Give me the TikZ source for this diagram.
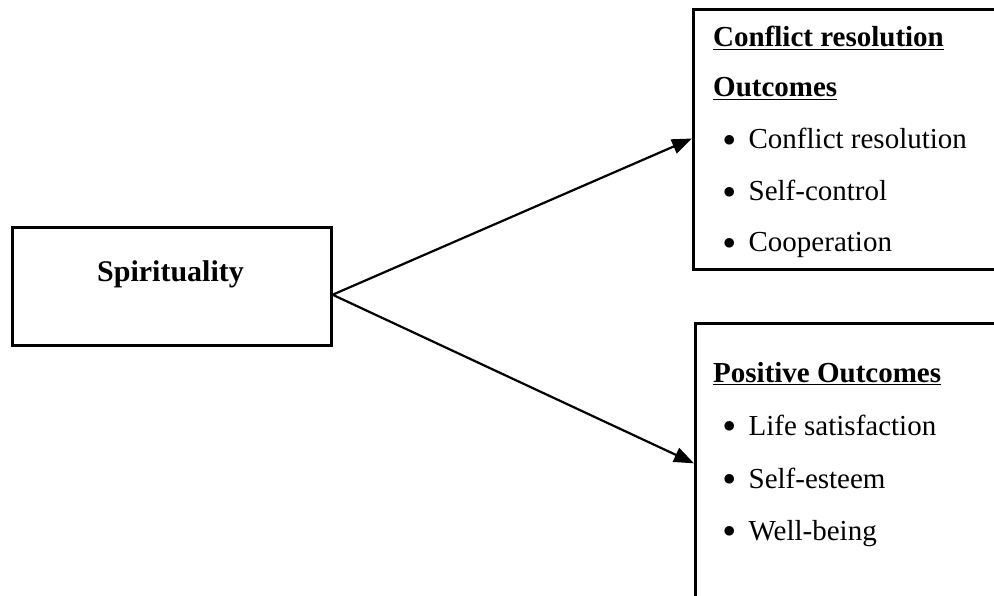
\documentclass[tikz,border=0pt]{standalone}
\usepackage{fontspec}
\setmainfont{Liberation Serif}
\usetikzlibrary{arrows.meta,calc}
\newcommand{\blt}{\raisebox{2.5pt}{$\bullet$}\hspace{13pt}}
\begin{document}
\begin{tikzpicture}[x=1pt,y=-1pt,
  box/.style={draw,line width=2.6pt,rectangle,inner sep=0pt,anchor=north west},
  lbl/.style={inner sep=0pt,font=\fontsize{29}{35}\selectfont},
  head/.style={lbl,anchor=base west,font=\fontsize{29}{35}\selectfont\bfseries},
  item/.style={lbl,anchor=base west},
  arr/.style={line width=2.2pt,-{Triangle[length=20pt,width=15pt]}}]
\useasboundingbox (0,0) rectangle (994,596);
\fill[white] (0,0) rectangle (994,596);
% boxes
\node[box,minimum width=319pt,minimum height=118pt] (spirit) at (11,226) {};
\node[box,minimum width=330pt,minimum height=260pt] (conf) at (692,8) {};
\node[box,minimum width=330pt,minimum height=300pt] (pos) at (694,322) {};
% texts
\node[lbl,anchor=base,font=\fontsize{30}{36}\selectfont\bfseries] (spirittxt) at (170.5,282) {Spirituality};
\node[head] (h1) at (713,47) {\underline{Conflict resolution}};
\node[head] (h2) at (713,97) {\underline{Outcomes}};
\node[item] (c1) at (723,149) {\blt Conflict resolution};
\node[item] (c2) at (723,201) {\blt Self-control};
\node[item] (c3) at (723,252) {\blt Cooperation};
\node[head] (h3) at (713,382) {\underline{Positive Outcomes}};
\node[item] (p1) at (723,435) {\blt Life satisfaction};
\node[item] (p2) at (723,488) {\blt Self-esteem};
\node[item] (p3) at (723,540) {\blt Well-being};
% connectors
\coordinate (s) at ($(spirit.north east)!0.57!(spirit.south east)$);
\coordinate (e1) at ($(conf.north west)!0.497!(conf.south west)$);
\coordinate (e2) at ($(pos.north west)!0.467!(pos.south west)$);
\draw[arr] (s) -- (e1);
\draw[arr] (s) -- (e2);
\end{tikzpicture}
\end{document}
